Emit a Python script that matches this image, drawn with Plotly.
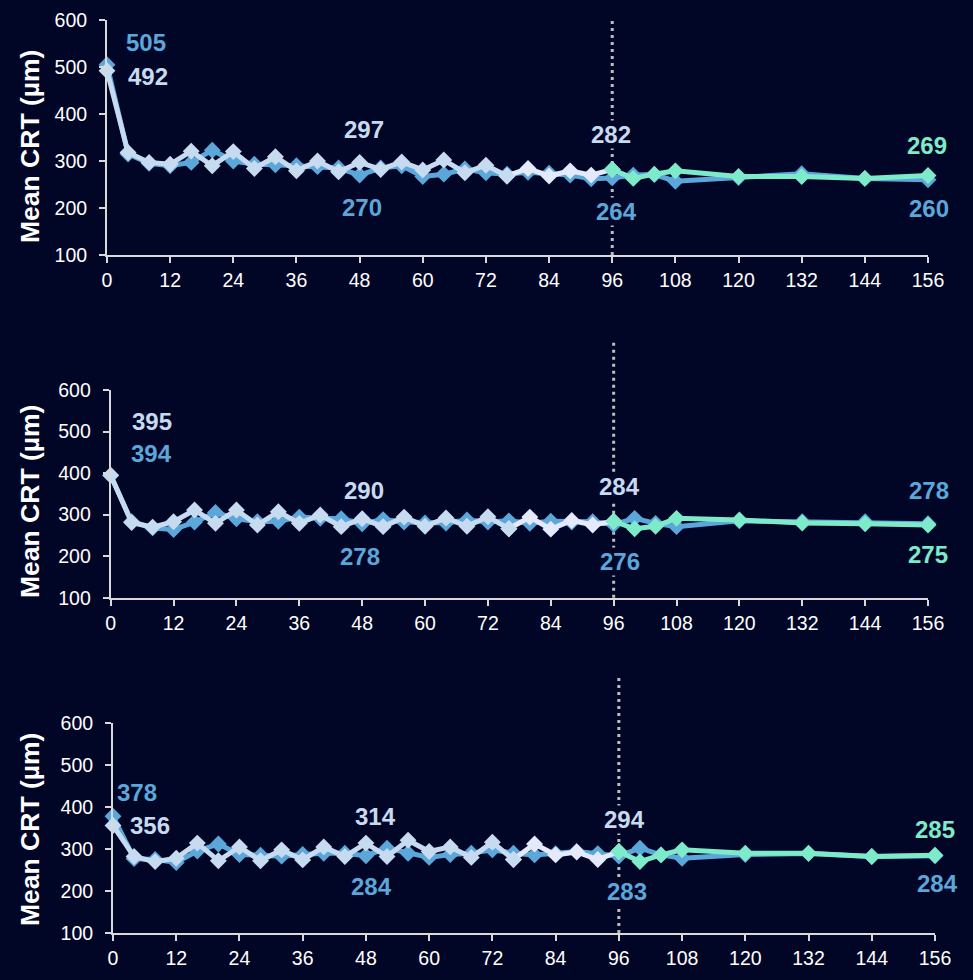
import plotly.graph_objects as go

# ---------------- data ----------------
weeks_main = [0, 4, 8, 12, 16, 20, 24, 28, 32, 36, 40, 44, 48, 52, 56, 60, 64, 68, 72, 76, 80, 84, 88, 92, 96]
weeks_ext = [96, 100, 104, 108, 120, 132, 144, 156]
weeks_all = weeks_main + weeks_ext[1:]
x_ticks = [0, 12, 24, 36, 48, 60, 72, 84, 96, 108, 120, 132, 144, 156]
y_ticks = [100, 200, 300, 400, 500, 600]

# Panel 1
p1_blue = [505, 315, 295, 290, 297, 323, 300, 293, 292, 290, 288, 285, 270, 285, 290, 267, 272, 283, 275, 272,
           276, 274, 270, 262, 264, 270, 271, 257, 265, 273, 263, 260]
p1_light = [492, 318, 297, 293, 321, 290, 320, 284, 309, 279, 300, 277, 297, 282, 298, 281, 302, 275, 291, 268,
            284, 268, 279, 270, 282]
p1_green = [282, 263, 272, 279, 267, 267, 263, 269]

# Panel 2
p2_blue = [394, 283, 268, 264, 282, 305, 290, 283, 284, 294, 291, 290, 278, 288, 282, 280, 280, 287, 282, 285,
           279, 284, 282, 283, 276, 291, 279, 271, 285, 283, 283, 278]
p2_light = [395, 281, 270, 283, 311, 279, 311, 275, 307, 279, 299, 271, 290, 271, 294, 272, 292, 272, 295, 266,
            294, 265, 286, 275, 284]
p2_green = [284, 266, 272, 291, 287, 280, 278, 275]

# Panel 3
p3_blue = [378, 277, 275, 268, 295, 312, 287, 285, 283, 287, 290, 290, 284, 302, 290, 280, 287, 290, 298, 290,
           286, 289, 294, 289, 283, 302, 286, 278, 287, 289, 282, 284]
p3_light = [356, 282, 270, 278, 314, 272, 305, 272, 298, 274, 305, 282, 314, 282, 321, 294, 305, 280, 316, 275,
            312, 286, 293, 275, 294]
p3_green = [294, 270, 286, 298, 290, 290, 282, 285]

# ---------------- style ----------------
BG = "#020626"
C_BLUE = "#5ba7da"
C_LIGHT = "#c6dbf0"
C_WHITE = "#e4e9fb"
C_GREEN = "#7debca"
AXIS_C = "#d9d9d9"
FONT = "Liberation Sans, Arial, sans-serif"

panels = [
    dict(blue=p1_blue, light=p1_light, green=p1_green,
         xdom=[107 / 973, 928 / 973], ydom=[1 - 255 / 980, 1 - 20 / 980], vtop=1.01, ycenter=1 - 147 / 980,
         labels=[("blue", 0, 39, 22), ("light", 0, 41, -6), ("light", 12, 4, 33), ("blue", 12, 2, -32),
                 ("light", 24, -1, 35), ("blue", 24, 4, -34), ("green", 7, -1, 30), ("blue", 31, 1, -29)]),
    dict(blue=p2_blue, light=p2_light, green=p2_green,
         xdom=[110.7 / 973, 928 / 973], ydom=[1 - 597.7 / 980, 1 - 390 / 980], vtop=1.24, ycenter=1 - 502 / 980,
         labels=[("light", 0, 41, 54), ("blue", 0, 41, 22), ("light", 12, 2, 28), ("blue", 12, -2, -33),
                 ("light", 24, 6, 35), ("blue", 24, 6, -37), ("blue", 31, 1, 33), ("green", 7, 0, -29)]),
    dict(blue=p3_blue, light=p3_light, green=p3_green,
         xdom=[113 / 973, 935 / 973], ydom=[1 - 933 / 980, 1 - 723 / 980], vtop=1.22, ycenter=1 - 830 / 980,
         labels=[("blue", 0, 24, 24), ("light", 0, 37, 0), ("light", 12, 10, 27), ("blue", 12, 6, -31),
                 ("light", 24, 6, 32), ("blue", 24, 8, -35), ("green", 7, 0, 26), ("blue", 31, 2, -28)]),
]

fig = go.Figure()
annotations = []
shapes = []
layout_axes = {}

MS = 13
LW = 5

for i, p in enumerate(panels):
    n = "" if i == 0 else str(i + 1)
    xa, ya = "x" + n, "y" + n

    def tr(x, y, color):
        return go.Scatter(x=x, y=y, mode="lines+markers", xaxis=xa, yaxis=ya,
                          line=dict(color=color, width=LW),
                          marker=dict(symbol="diamond", size=MS, color=color),
                          cliponaxis=False, showlegend=False, hoverinfo="x+y")

    fig.add_trace(tr(weeks_all, p["blue"], C_BLUE))
    fig.add_trace(tr(weeks_main[19:], p["light"][19:], C_WHITE))
    fig.add_trace(tr(weeks_main[:20], p["light"][:20], C_LIGHT))
    fig.add_trace(tr(weeks_ext, p["green"], C_GREEN))

    axis_common = dict(showgrid=False, zeroline=False, showline=True, linecolor=AXIS_C, linewidth=2,
                       ticks="outside", ticklen=6, tickwidth=2, tickcolor=AXIS_C, automargin=False,
                       tickfont=dict(color="white", size=19.5, family=FONT))
    layout_axes["xaxis" + n] = dict(domain=p["xdom"], anchor=ya, range=[0, 156], tickvals=x_ticks,
                                    ticklabelstandoff=1, **axis_common)
    layout_axes["yaxis" + n] = dict(domain=p["ydom"], anchor=xa, range=[100, 600], tickvals=y_ticks,
                                    ticklabelstandoff=8, **axis_common)

    shapes.append(dict(type="line", xref=xa, yref=ya + " domain", x0=96, x1=96, y0=0, y1=p["vtop"],
                       line=dict(color="#bdbdbd", width=3, dash="3px,4px"), layer="below"))

    annotations.append(dict(text="<b>Mean CRT (µm)</b>", xref="paper", yref="paper", x=30 / 973,
                            y=p["ycenter"], textangle=-90, showarrow=False, xanchor="center",
                            yanchor="middle", font=dict(color="white", size=26.5, family=FONT)))

    series = {"blue": (weeks_all, p["blue"], C_BLUE), "light": (weeks_main, p["light"], C_LIGHT),
              "green": (weeks_ext, p["green"], C_GREEN)}
    for (s, idx, dx, dy) in p["labels"]:
        xs, ys, col = series[s]
        annotations.append(dict(text="<b>%d</b>" % ys[idx], x=xs[idx], y=ys[idx], xref=xa, yref=ya,
                                xshift=dx, yshift=dy, showarrow=False, bgcolor=BG, borderpad=0,
                                font=dict(color=col, size=24, family=FONT)))

fig.update_layout(
    width=973, height=980, margin=dict(l=0, r=0, t=0, b=0, autoexpand=False),
    paper_bgcolor=BG, plot_bgcolor=BG, font=dict(family=FONT, color="white"),
    annotations=annotations, shapes=shapes, showlegend=False, **layout_axes)

fig.write_html("out.html", config={"displayModeBar": False},
               post_script="document.body.style.margin='0';document.body.style.overflow='hidden';")
